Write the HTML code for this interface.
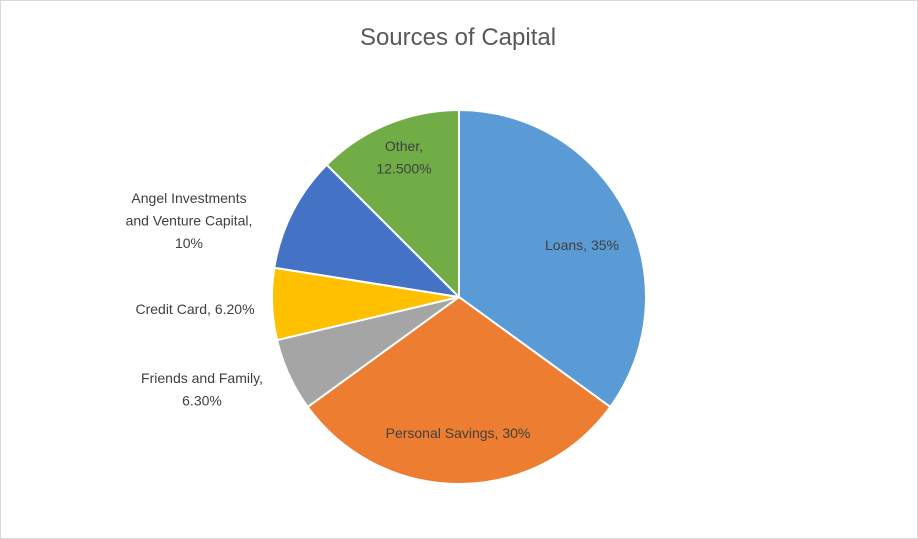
<!DOCTYPE html>
<html><head><meta charset="utf-8"><style>
html,body{margin:0;padding:0;background:#fff}
svg{display:block;font-family:"Liberation Sans",sans-serif}
</style></head><body>
<svg width="918" height="539">
<rect x="0.5" y="0.5" width="917" height="538" fill="#fff" stroke="#d9d9d9"/>
<text x="458" y="45" text-anchor="middle" font-size="24" fill="#595959">Sources of Capital</text>
<g id="slices"></g>
<g id="labels"></g>
</svg>
<script>
const categories = ["Loans","Personal Savings","Friends and Family","Credit Card","Angel Investments and Venture Capital","Other"];
const values = [35,30,6.3,6.2,10,12.5];
const labelLines = [["Loans, 35%"],["Personal Savings, 30%"],["Friends and Family,","6.30%"],["Credit Card, 6.20%"],["Angel Investments","and Venture Capital,","10%"],["Other,","12.500%"]];
const colors = ["#5b9bd5","#ed7d31","#a5a5a5","#ffc000","#4472c4","#70ad47"];
const labelPos = [[582,245],[458,433],[202,378],[195,309],[189,198],[404,146]];
const cx=459, cy=297, r=187;
const ns="http://www.w3.org/2000/svg";
const total=values.reduce((a,b)=>a+b,0);
const gs=document.getElementById('slices'), gl=document.getElementById('labels');
let a0=-Math.PI/2;
values.forEach((v,i)=>{
  const a1=a0+v/total*2*Math.PI;
  const x0=cx+r*Math.cos(a0), y0=cy+r*Math.sin(a0), x1=cx+r*Math.cos(a1), y1=cy+r*Math.sin(a1);
  const p=document.createElementNS(ns,'path');
  p.setAttribute('d',`M${cx},${cy}L${x0},${y0}A${r},${r} 0 ${a1-a0>Math.PI?1:0} 1 ${x1},${y1}Z`);
  p.setAttribute('fill',colors[i]);p.setAttribute('stroke','#fff');p.setAttribute('stroke-width','2');
  
  
  gs.appendChild(p);
  const t=document.createElementNS(ns,'text');
  t.setAttribute('text-anchor','middle');t.setAttribute('font-size','14');t.setAttribute('fill','#404040');
  
  
  labelLines[i].forEach((l,j)=>{
    const s=document.createElementNS(ns,'tspan');
    s.setAttribute('x',labelPos[i][0]);s.setAttribute('y',labelPos[i][1]+5+j*22.5);
    s.textContent=l;t.appendChild(s);
  });
  gl.appendChild(t);
  a0=a1;
});
</script>
</body></html>
